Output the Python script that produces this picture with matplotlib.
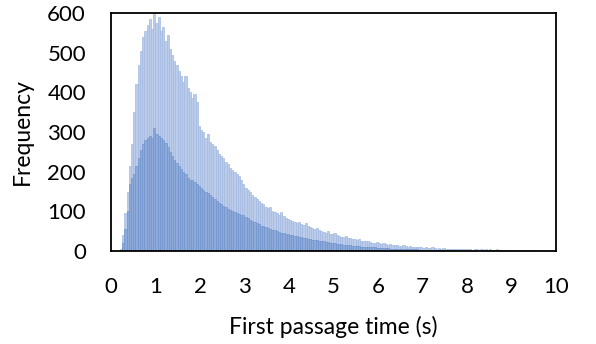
import numpy as np
import matplotlib
matplotlib.use("Agg")
import matplotlib.pyplot as plt

# histogram of first passage times, 0.05 s bins
bin_width = 0.05
bin_left = np.arange(0, 10, bin_width)

# upper (light) envelope of the counts, one row per second
upper = [
    0, 0, 0, 0, 5, 40, 95, 150, 215, 270, 350, 420, 470, 505, 540, 555, 570, 585, 560, 600,
    575, 590, 555, 565, 530, 545, 510, 495, 480, 470, 455, 440, 425, 440, 410, 400, 385, 395, 375, 315,
    305, 300, 285, 295, 275, 270, 265, 255, 245, 240, 235, 225, 220, 210, 205, 200, 195, 190, 180, 170,
    160, 155, 150, 140, 135, 130, 125, 120, 118, 112, 108, 110, 100, 98, 95, 92, 98, 88, 82, 80,
    78, 75, 72, 70, 72, 68, 65, 70, 62, 60, 57, 55, 58, 52, 50, 48, 46, 50, 44, 42,
    45, 40, 38, 36, 35, 37, 33, 32, 30, 31, 28, 30, 26, 25, 24, 26, 22, 21, 20, 22,
    19, 18, 20, 17, 16, 18, 15, 14, 15, 13, 12, 14, 12, 11, 13, 10, 11, 9, 10, 9,
    8, 10, 8, 7, 9, 7, 6, 8, 6, 7, 5, 6, 5, 6, 5, 4, 5, 6, 4, 5,
    4, 5, 3, 4, 5, 3, 4, 3, 4, 3, 4, 2, 3, 4, 2, 3, 3, 2, 3, 2,
    3, 2, 2, 3, 2, 2, 3, 1, 2, 2, 1, 2, 1, 2, 1, 1, 1, 1, 1, 1,
]

# lower (dense) band of the counts
lower = [
    0, 0, 0, 0, 2, 20, 55, 100, 170, 185, 195, 215, 235, 255, 270, 280, 285, 290, 285, 310,
    295, 290, 285, 280, 272, 262, 250, 240, 230, 222, 215, 208, 200, 195, 185, 180, 178, 174, 170, 165,
    160, 155, 150, 146, 140, 135, 130, 126, 122, 118, 114, 110, 107, 104, 101, 98, 96, 94, 92, 90,
    86, 82, 78, 75, 72, 70, 67, 64, 62, 60, 58, 56, 54, 52, 50, 48, 46, 45, 44, 42,
    41, 40, 38, 37, 36, 35, 34, 32, 31, 30, 29, 28, 27, 26, 25, 24, 23, 22, 21, 20,
    19, 18, 17, 17, 16, 15, 15, 14, 13, 13, 12, 12, 11, 11, 10, 10, 9, 9, 9, 8,
    8, 8, 7, 7, 7, 6, 6, 6, 6, 5, 5, 5, 5, 4, 4, 4, 4, 4, 3, 3,
    3, 3, 3, 3, 3, 2, 2, 2, 2, 2, 2, 2, 2, 2, 2, 1, 1, 1, 1, 1,
    1, 1, 1, 1, 1, 1, 1, 1, 1, 1, 1, 1, 1, 1, 1, 1, 1, 1, 1, 1,
    1, 1, 1, 1, 1, 1, 1, 1, 1, 1, 1, 1, 0, 0, 0, 0, 0, 0, 0, 0,
]

x_ticks = list(range(0, 11))
y_ticks = list(range(0, 601, 100))

plt.rcParams["font.family"] = ["Lato", "DejaVu Sans"]

fig = plt.figure(figsize=(5.96, 3.44), dpi=100)
ax = fig.add_axes([0.1862, 0.2703, 0.7466, 0.6919])

ax.bar(bin_left, upper, width=bin_width, align="edge", color="#BACCE9",
       edgecolor="#A3BAE1", linewidth=0.5)
ax.bar(bin_left, lower, width=bin_width, align="edge", color="#8DAADA",
       edgecolor="#7195CE", linewidth=0.5)

ax.set_xlim(0, 10)
ax.set_ylim(0, 600)
ax.set_xticks(x_ticks)
ax.set_yticks(y_ticks)
ax.tick_params(length=0, labelsize=16, colors="black")
ax.tick_params(axis="x", pad=19)
ax.tick_params(axis="y", pad=18)
for s in ax.spines.values():
    s.set_color("black")
    s.set_linewidth(1.3)

ax.set_xlabel("First passage time (s)", fontsize=16.5, labelpad=13)
ax.set_ylabel("Frequency", fontsize=16.5, labelpad=10)

fig.savefig("out.png", dpi=100, facecolor="white")
